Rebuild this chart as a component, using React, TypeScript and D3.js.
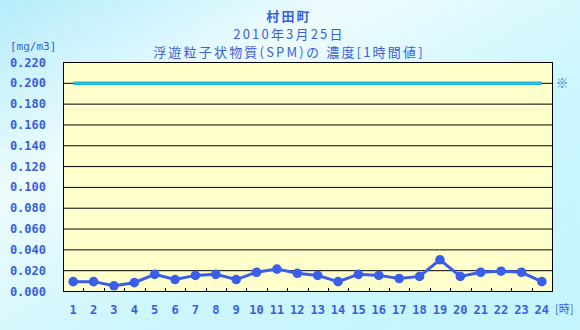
import React from "react";
import * as d3 from "d3";

const hours = ["1","2","3","4","5","6","7","8","9","10","11","12","13","14","15","16","17","18","19","20","21","22","23","24"];
const spm = [0.009,0.009,0.005,0.008,0.016,0.011,0.015,0.016,0.011,0.018,0.021,0.017,0.015,0.009,0.016,0.015,0.012,0.014,0.030,0.014,0.018,0.019,0.018,0.009];
const standard = 0.2;
const yTicks = [0,0.02,0.04,0.06,0.08,0.1,0.12,0.14,0.16,0.18,0.2,0.22];
const titleLines = ["村田町","2010年3月25日","浮遊粒子状物質(SPM)の 濃度[1時間値]"];
const yUnit = "[mg/m3]";
const xUnit = "[時]";

const W = 580, H = 330;
const L = 63, R = 552, T = 62, B = 291;
const TXT = "#3a5ee0";
const JP = "'Noto Sans CJK JP', 'DejaVu Sans', sans-serif";
const NUM = "'DejaVu Sans Mono', monospace";

export default function App() {
  const x = d3.scaleBand<string>().domain(hours).range([L, R]);
  const y = d3.scaleLinear().domain([0, 0.22]).range([B, T]);
  const cx = (h: string) => (x(h) as number) + x.bandwidth() / 2;
  const line = d3.line<number>().x((_, i) => cx(hours[i])).y((d) => y(d));
  const first = cx(hours[0]);
  const last = cx(hours[hours.length - 1]);
  return (
    <svg width={W} height={H} style={{ position: "absolute", left: 0, top: 0, display: "block" }}>
      <defs>
        <linearGradient id="bg" x1="0" y1="0" x2="1" y2="1">
          <stop offset="0" stopColor="#b4ecfa" />
          <stop offset="0.3" stopColor="#eefcff" />
          <stop offset="0.6" stopColor="#cdf6fd" />
          <stop offset="1" stopColor="#c4f4fe" />
        </linearGradient>
      </defs>
      <rect x={0} y={0} width={W} height={H} fill="url(#bg)" />
      {titleLines.map((t, i) => (
        <text key={i} x={289} y={21 + i * 18} textAnchor="middle" fill={TXT}
          fontFamily={JP} fontSize={13} letterSpacing={2.2} fontWeight={i === 0 ? "bold" : "normal"}>{t}</text>
      ))}
      <text x={10} y={50} fill={TXT} fontFamily={NUM} fontSize={11}>{yUnit}</text>
      <rect x={L} y={T} width={R - L} height={B - T} fill="#ffffcc" stroke="none" />
      {yTicks.map((v) => (
        <g key={v}>
          {v > 0 && v < 0.22 && <line x1={L} x2={R} y1={y(v) + 0.5} y2={y(v) + 0.5} stroke="#000" strokeWidth={1} />}
          <text x={46} y={y(v) + 4.5} textAnchor="end" fill={TXT} fontFamily={NUM} fontSize={12} fontWeight="bold">{v.toFixed(3)}</text>
        </g>
      ))}
      {hours.slice(1).map((h) => (
        <line key={h} x1={Math.round(x(h) as number) + 0.5} x2={Math.round(x(h) as number) + 0.5} y1={B - 3} y2={B} stroke="#000" strokeWidth={1} />
      ))}
      <rect x={L + 0.5} y={T + 0.5} width={R - L} height={B - T} fill="none" stroke="#000" strokeWidth={1} />
      <line x1={first} x2={last} y1={y(standard) + 0.5} y2={y(standard) + 0.5} stroke="#22bbdd" strokeWidth={3.5} />
      <text x={556} y={y(standard) + 5} fill={TXT} fontFamily={JP} fontSize={12}>※</text>
      <path d={line(spm) || ""} fill="none" stroke="#3a5ee8" strokeWidth={3} />
      {spm.map((v, i) => (
        <circle key={i} cx={cx(hours[i])} cy={y(v)} r={4.8} fill="#3a5ee8" />
      ))}
      {hours.map((h) => (
        <text key={h} x={cx(h)} y={314} textAnchor="middle" fill={TXT} fontFamily={NUM} fontSize={12} fontWeight="bold">{h}</text>
      ))}
      <text x={555} y={313} fill={TXT} fontFamily={JP} fontSize={11}>{xUnit}</text>
    </svg>
  );
}
